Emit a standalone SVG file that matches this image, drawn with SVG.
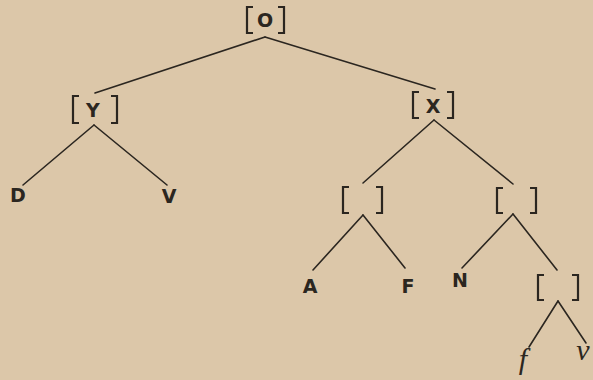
<svg xmlns="http://www.w3.org/2000/svg" width="593" height="380" viewBox="0 0 593 380">
  <style>
    .edge { stroke: #2b2620; stroke-width: 1.6; fill: none; stroke-linecap: round; }
    .br { stroke: #2b2620; stroke-width: 2.2; fill: none; }
    .lbl { font-family: "DejaVu Sans", "Liberation Sans", sans-serif; font-weight: bold; font-size: 19px; fill: #2b2620; text-anchor: middle; }
    .leaf { font-family: "DejaVu Sans", "Liberation Sans", sans-serif; font-weight: bold; font-size: 19px; fill: #2b2620; text-anchor: middle; }
    .ital { font-family: "Liberation Serif", "DejaVu Serif", serif; font-style: italic; font-size: 30px; fill: #2b2620; text-anchor: middle; }
  </style>
  <rect width="593" height="380" fill="#dcc7a9"/>

  <g id="connectors">
    <line class="edge" x1="265" y1="37" x2="95" y2="93"/>
    <line class="edge" x1="265" y1="37" x2="435" y2="89"/>
    <line class="edge" x1="94" y1="125" x2="23" y2="185"/>
    <line class="edge" x1="94" y1="125" x2="167" y2="185"/>
    <line class="edge" x1="434" y1="120" x2="363" y2="183"/>
    <line class="edge" x1="434" y1="120" x2="513" y2="184"/>
    <line class="edge" x1="363" y1="215" x2="313" y2="270"/>
    <line class="edge" x1="363" y1="215" x2="405" y2="268"/>
    <line class="edge" x1="513" y1="214" x2="462" y2="268"/>
    <line class="edge" x1="513" y1="214" x2="557" y2="270"/>
    <line class="edge" x1="558" y1="301" x2="529" y2="347"/>
    <line class="edge" x1="558" y1="301" x2="586" y2="343"/>
  </g>

  <g id="node-O">
    <path class="br" d="M253,7 H247 V33 H253 M278,7 H284 V33 H278"/>
    <text class="lbl" x="265" y="27">O</text>
  </g>
  <g id="node-Y">
    <path class="br" d="M79,96 H73 V123 H79 M111,96 H117 V123 H111"/>
    <text class="lbl" x="93" y="117">Y</text>
  </g>
  <g id="node-X">
    <path class="br" d="M419,92 H413 V118 H419 M447,92 H453 V118 H447"/>
    <text class="lbl" x="433" y="113">X</text>
  </g>
  <g id="node-XL">
    <path class="br" d="M349,187 H343 V213 H349 M376,187 H382 V213 H376"/>
  </g>
  <g id="node-XR">
    <path class="br" d="M503,188 H497 V213 H503 M530,188 H536 V213 H530"/>
  </g>
  <g id="node-XRR">
    <path class="br" d="M544,275 H538 V300 H544 M572,275 H578 V300 H572"/>
  </g>

  <g id="leaf-D"><text class="leaf" x="18" y="202">D</text></g>
  <g id="leaf-V"><text class="leaf" x="169" y="203">V</text></g>
  <g id="leaf-A"><text class="leaf" x="310" y="293">A</text></g>
  <g id="leaf-F"><text class="leaf" x="408" y="293">F</text></g>
  <g id="leaf-N"><text class="leaf" x="460" y="287">N</text></g>
  <g id="leaf-f"><text class="ital" x="523" y="369">f</text></g>
  <g id="leaf-v"><text class="ital" x="583" y="360">v</text></g>
</svg>
